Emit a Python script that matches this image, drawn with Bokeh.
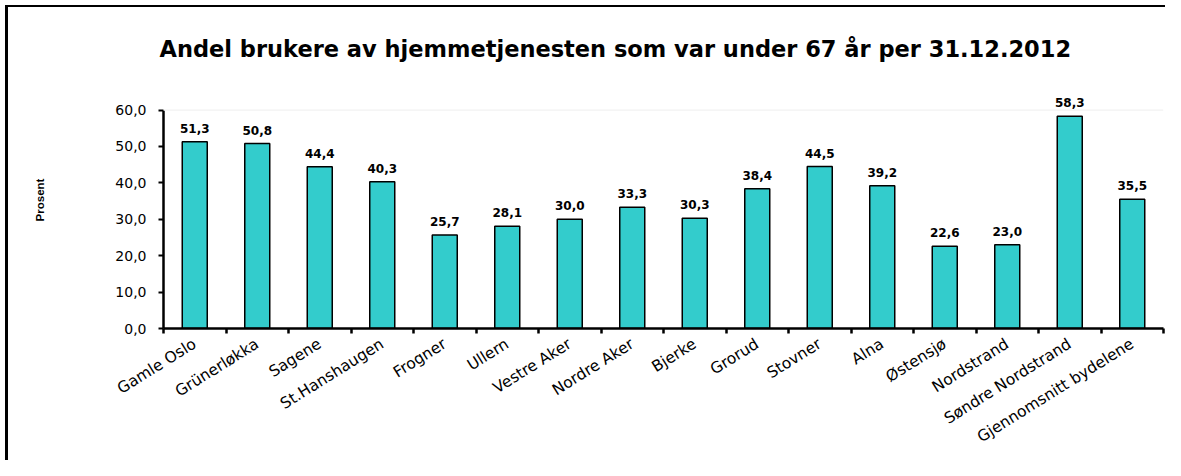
import math
from bokeh.plotting import figure
from bokeh.models import ColumnDataSource, FixedTicker, LabelSet, Span, Range1d
from bokeh.core.properties import value
from bokeh.embed import file_html
from bokeh.resources import INLINE

categories = ["Gamle Oslo", "Grünerløkka", "Sagene", "St.Hanshaugen", "Frogner", "Ullern",
              "Vestre Aker", "Nordre Aker", "Bjerke", "Grorud", "Stovner", "Alna",
              "Østensjø", "Nordstrand", "Søndre Nordstrand", "Gjennomsnitt bydelene"]
values = [51.3, 50.8, 44.4, 40.3, 25.7, 28.1, 30.0, 33.3, 30.3, 38.4, 44.5, 39.2,
          22.6, 23.0, 58.3, 35.5]
y_ticks = [0, 10, 20, 30, 40, 50, 60]
y_tick_labels = ["0,0", "10,0", "20,0", "30,0", "40,0", "50,0", "60,0"]
title_text = "Andel brukere av hjemmetjenesten som var under 67 år per 31.12.2012"
y_label = "Prosent"

n = len(categories)
centers = [i + 0.5 for i in range(n)]
labels = [f"{v:.1f}".replace(".", ",") for v in values]
source = ColumnDataSource(dict(x=centers, top=values, lab=labels))

p = figure(width=1165, height=460, output_backend="svg", toolbar_location=None,
           x_range=Range1d(0, n), y_range=Range1d(0, 70.6),
           min_border_left=163, min_border_right=2, min_border_top=71,
           min_border_bottom=132)
p.styles = {"box-shadow": "inset 5px 5px 0 0 white, inset 8px 7px 0 0 black"}
p.border_fill_color = None
p.background_fill_color = "white"
p.outline_line_color = None
p.xgrid.visible = False
p.ygrid.visible = False

p.title.text = title_text
p.title.text_font = "DejaVu Sans"
p.title.text_font_style = "bold"
p.title.text_font_size = "22.5px"
p.title.text_color = "black"
p.title.align = "left"
p.title.offset = -4
p.title.standoff = 20

p.add_layout(Span(location=60, dimension="width", line_color="#eeeeee", line_width=1))

p.vbar(x="x", top="top", width=0.4, source=source, fill_color="#33CCCC",
       line_color="black", line_width=1.5)

p.add_layout(LabelSet(x="x", y="top", text="lab", source=source, text_align="center",
                      text_baseline="alphabetic", y_offset=9,
                      text_font=value("DejaVu Sans"), text_font_style="bold",
                      text_font_size="12px", text_color="black"))

# x axis
xa = p.xaxis[0]
xa.ticker = FixedTicker(ticks=centers, minor_ticks=list(range(n + 1)))
xa.major_label_overrides = {c: name for c, name in zip(centers, categories)}
xa.major_label_orientation = math.radians(32)
xa.major_label_text_font = "DejaVu Sans"
xa.major_label_text_font_size = "15.5px"
xa.major_label_text_color = "black"
xa.major_label_standoff = 9
xa.major_tick_out = 0
xa.major_tick_in = 0
xa.minor_tick_out = 5
xa.minor_tick_in = 0
xa.minor_tick_line_width = 2.5
xa.minor_tick_line_color = "black"
xa.axis_line_width = 2.5
xa.axis_line_color = "black"

# y axis
ya = p.yaxis[0]
ya.ticker = FixedTicker(ticks=y_ticks, minor_ticks=[])
ya.bounds = (0, 60)
ya.major_label_overrides = {t: s for t, s in zip(y_ticks, y_tick_labels)}
ya.major_label_text_font = "DejaVu Sans"
ya.major_label_text_font_size = "14px"
ya.major_label_text_color = "black"
ya.major_label_standoff = 12
ya.major_tick_out = 5
ya.major_tick_in = 0
ya.major_tick_line_width = 2
ya.axis_line_width = 2.5
ya.axis_line_color = "black"
ya.axis_label = y_label
ya.axis_label_text_font = "Liberation Sans"
ya.axis_label_text_font_style = "bold"
ya.axis_label_text_font_size = "11.5px"
ya.axis_label_text_color = "black"
ya.axis_label_standoff = 66

open("out.html", "w").write(file_html(p, INLINE))
